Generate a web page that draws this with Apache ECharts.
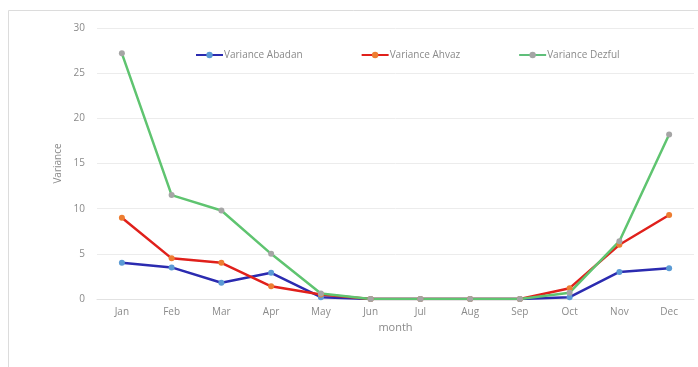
<!DOCTYPE html>
<html>
<head>
<meta charset="utf-8">
<script src="https://cdn.jsdelivr.net/npm/echarts@6/dist/echarts.min.js"></script>
<style>
  html, body { margin: 0; padding: 0; background: #ffffff; }
  #chart { width: 698px; height: 367px; }
</style>
</head>
<body>
<div id="chart"></div>
<script>
// Monthly variance at three stations
const months = ['Jan', 'Feb', 'Mar', 'Apr', 'May', 'Jun', 'Jul', 'Aug', 'Sep', 'Oct', 'Nov', 'Dec'];
const abadan = [4.0, 3.5, 1.8, 2.9, 0.2, 0, 0, 0, 0, 0.2, 3.0, 3.4];
const ahvaz  = [9.0, 4.5, 4.0, 1.4, 0.5, 0, 0, 0, 0, 1.2, 6.0, 9.3];
const dezful = [27.2, 11.5, 9.8, 5.0, 0.6, 0, 0, 0, 0, 0.7, 6.4, 18.2];
const yTicks = [0, 5, 10, 15, 20, 25, 30];

const font = '"Open Sans", "Liberation Sans", sans-serif';
const labelColor = '#8a8a8a';

function lineSeries(name, data, lineColor, markerColor) {
  return {
    name: name,
    type: 'line',
    data: data,
    symbol: 'circle',
    symbolSize: 6,
    lineStyle: { color: lineColor, width: 2.5 },
    itemStyle: { color: markerColor, borderWidth: 0 },
    color: lineColor,
    emphasis: { disabled: true },
    animation: false
  };
}

const chart = echarts.init(document.getElementById('chart'), null, { renderer: 'canvas' });
chart.setOption({
  backgroundColor: '#ffffff',
  animation: false,
  graphic: [{
    type: 'rect',
    shape: { x: 8.5, y: 10.5, width: 720, height: 400 },
    style: { fill: 'none', stroke: '#dcdcdc', lineWidth: 1 },
    silent: true,
    z: -1
  }],
  legend: {
    left: 190,
    top: 45,
    itemWidth: 27,
    itemHeight: 8,
    itemGap: 58,
    textStyle: { color: labelColor, fontSize: 10, fontFamily: font, padding: [0, 0, 0, -4] },
    data: [
      { name: 'Variance Abadan', itemStyle: { color: '#5b9bd5' }, lineStyle: { color: '#2b2bb0' } },
      { name: 'Variance Ahvaz', itemStyle: { color: '#ed7d31' }, lineStyle: { color: '#e0201b' } },
      { name: 'Variance Dezful', itemStyle: { color: '#a5a5a5' }, lineStyle: { color: '#5fbf7a' } }
    ]
  },
  grid: { left: 97, right: 4, top: 28, bottom: 68, containLabel: false },
  xAxis: {
    type: 'category',
    data: months,
    boundaryGap: true,
    name: 'month',
    nameLocation: 'middle',
    nameGap: 19,
    nameTextStyle: { color: labelColor, fontSize: 11, fontFamily: font },
    axisLine: { show: true, lineStyle: { color: '#e2e2e2', width: 1 } },
    axisTick: { show: false },
    axisLabel: { color: labelColor, fontSize: 10, fontFamily: font, margin: 8 },
    splitLine: { show: false }
  },
  yAxis: {
    type: 'value',
    min: yTicks[0],
    max: yTicks[yTicks.length - 1],
    interval: 5,
    name: 'Variance',
    nameLocation: 'middle',
    nameGap: 29,
    nameRotate: 90,
    nameTextStyle: { color: labelColor, fontSize: 10, fontFamily: font },
    axisLine: { show: false },
    axisTick: { show: false },
    axisLabel: { color: labelColor, fontSize: 10, fontFamily: font, margin: 12 },
    splitLine: { show: true, lineStyle: { color: '#ececec', width: 1 } }
  },
  series: [
    lineSeries('Variance Abadan', abadan, '#2b2bb0', '#5b9bd5'),
    lineSeries('Variance Ahvaz', ahvaz, '#e0201b', '#ed7d31'),
    lineSeries('Variance Dezful', dezful, '#5fc470', '#a5a5a5')
  ]
});
</script>
</body>
</html>
